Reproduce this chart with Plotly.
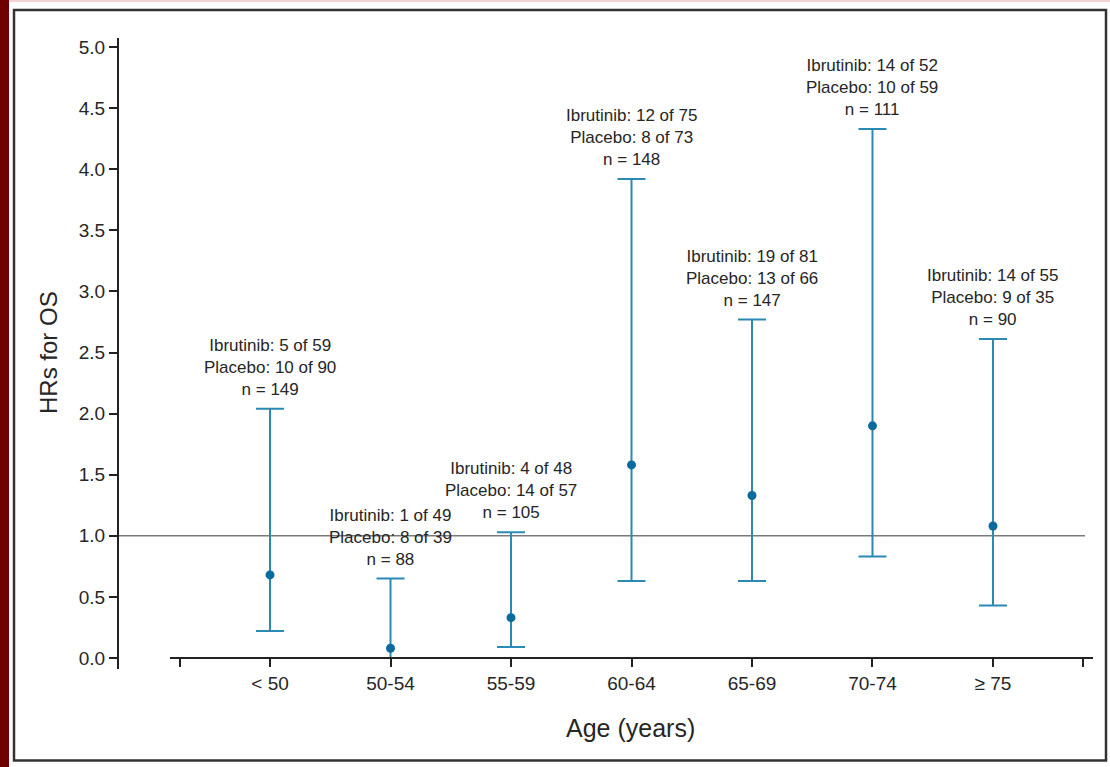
import plotly.graph_objects as go

# Subgroup data: overall survival hazard ratios by age band
age_groups = ["< 50", "50-54", "55-59", "60-64", "65-69", "70-74", "≥ 75"]
hr = [0.68, 0.08, 0.33, 1.58, 1.33, 1.90, 1.08]
ci_low = [0.22, 0.00, 0.09, 0.63, 0.63, 0.83, 0.43]
ci_high = [2.04, 0.65, 1.03, 3.92, 2.77, 4.33, 2.61]
ibr_events = [5, 1, 4, 12, 19, 14, 14]
ibr_total = [59, 49, 48, 75, 81, 52, 55]
pla_events = [10, 8, 14, 8, 13, 10, 9]
pla_total = [90, 39, 57, 73, 66, 59, 35]
n_total = [149, 88, 105, 148, 147, 111, 90]

y_ticks = [0.0, 0.5, 1.0, 1.5, 2.0, 2.5, 3.0, 3.5, 4.0, 4.5, 5.0]

W, H = 1110, 767
FONT = "Liberation Sans, Arial, sans-serif"
TXT = "#262626"
BAR = "#2a8ab3"
DOT = "#0b6b9c"


def px_x(p):
    return p / W


def px_y(p):
    return 1 - p / H


x_idx = list(range(len(age_groups)))

fig = go.Figure()
fig.add_trace(go.Scatter(
    x=x_idx,
    y=hr,
    mode="markers",
    marker=dict(color=DOT, size=9),
    error_y=dict(
        type="data",
        symmetric=False,
        array=[h - v for h, v in zip(ci_high, hr)],
        arrayminus=[v - l for v, l in zip(hr, ci_low)],
        color=BAR,
        thickness=2,
        width=14,
    ),
    showlegend=False,
    hoverinfo="skip",
))

# Event counts above each interval
for i in x_idx:
    fig.add_annotation(
        x=i, y=ci_high[i], xref="x", yref="y",
        text=(f"Ibrutinib: {ibr_events[i]} of {ibr_total[i]}<br>"
              f"Placebo: {pla_events[i]} of {pla_total[i]}<br>"
              f"n = {n_total[i]}"),
        showarrow=False, xanchor="center", yanchor="bottom", yshift=8,
        font=dict(family=FONT, size=17, color=TXT),
    )

# Axis titles
fig.add_annotation(
    x=px_x(630), y=px_y(728), xref="paper", yref="paper",
    xanchor="center", yanchor="middle",
    text="Age (years)", showarrow=False,
    font=dict(family=FONT, size=25, color=TXT),
)
fig.add_annotation(
    x=px_x(48), y=px_y(353), xref="paper", yref="paper",
    xanchor="center", yanchor="middle",
    text="HRs for OS", showarrow=False, textangle=-90,
    font=dict(family=FONT, size=24, color=TXT),
)

shapes = [
    # dark red page edge
    dict(type="rect", xref="paper", yref="paper", x0=0, x1=px_x(9), y0=0, y1=1,
         fillcolor="#6e0000", line=dict(width=0), layer="below"),
    dict(type="rect", xref="paper", yref="paper", x0=px_x(9), x1=1, y0=px_y(2), y1=1,
         fillcolor="#f3d2d2", line=dict(width=0), layer="below"),
    # panel frame
    dict(type="rect", xref="paper", yref="paper", x0=px_x(14), x1=px_x(1106),
         y0=px_y(760.5), y1=px_y(10), line=dict(color="#333333", width=2.5),
         fillcolor="rgba(0,0,0,0)"),
    # reference line at HR = 1
    dict(type="line", xref="paper", yref="y", x0=px_x(118), x1=px_x(1085),
         y0=1, y1=1, line=dict(color="#7a7a7a", width=1.5), layer="below"),
]

fig.update_layout(
    width=W, height=H,
    margin=dict(l=0, r=0, t=0, b=0),
    autosize=False,
    paper_bgcolor="white",
    plot_bgcolor="white",
    shapes=shapes,
    xaxis=dict(
        domain=[px_x(170), px_x(1093)],
        range=[-0.83, 6.83],
        anchor="free",
        position=px_y(658),
        tickvals=[-0.75] + x_idx + [6.75],
        ticktext=[""] + age_groups + [""],
        ticks="outside", ticklen=8, tickwidth=2, tickcolor="#222222",
        showline=True, linecolor="#222222", linewidth=2,
        showgrid=False, zeroline=False,
        tickfont=dict(family=FONT, size=19, color=TXT),
    ),
    yaxis=dict(
        domain=[px_y(669), px_y(38)],
        range=[-0.09, 5.074],
        anchor="free",
        position=px_x(118),
        tickvals=y_ticks,
        ticktext=[f"{v:.1f}" for v in y_ticks],
        ticks="outside", ticklen=8, tickwidth=2, tickcolor="#222222",
        showline=True, linecolor="#222222", linewidth=2,
        showgrid=False, zeroline=False,
        tickfont=dict(family=FONT, size=19, color=TXT),
    ),
)

fig.write_html("out.html")
